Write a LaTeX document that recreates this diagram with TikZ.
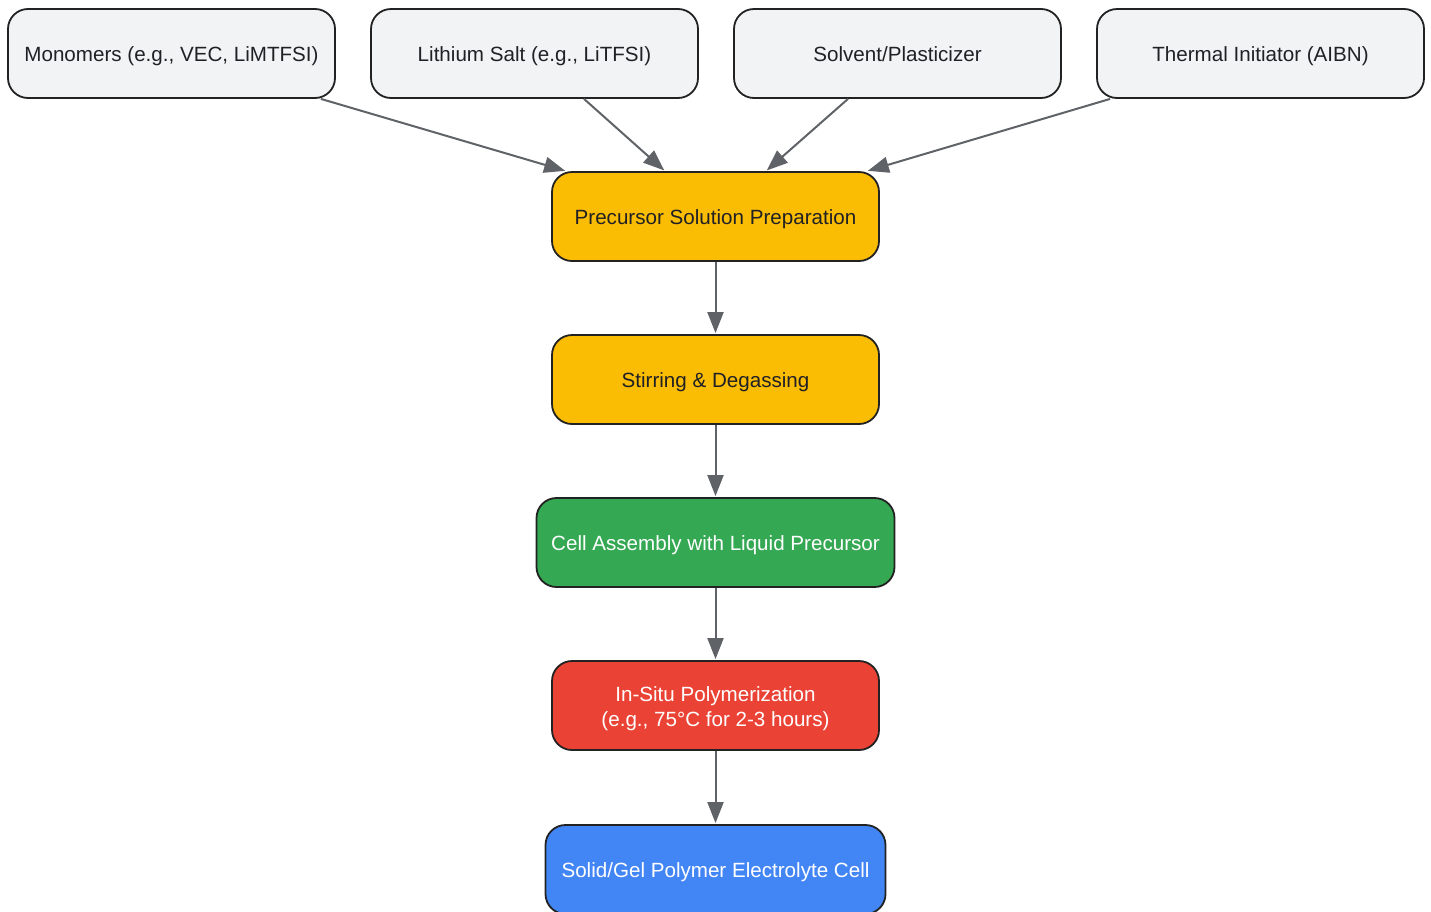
\documentclass[tikz,border=0pt]{standalone}
\usepackage{fontspec}
\setmainfont{Liberation Sans}
\usetikzlibrary{arrows.meta,calc}
\definecolor{boxgray}{HTML}{F1F3F4}
\definecolor{boxyellow}{HTML}{FBBC04}
\definecolor{boxgreen}{HTML}{34A853}
\definecolor{boxred}{HTML}{EA4335}
\definecolor{boxblue}{HTML}{4285F4}
\definecolor{edgegray}{HTML}{5F6368}
\definecolor{txtdark}{HTML}{202124}
\definecolor{strokedark}{HTML}{222222}
\newcommand{\lowtext}[1]{\raisebox{0pt}[\dimexpr\height+6pt\relax][\depth]{\begin{tabular}{@{}c@{}}#1\end{tabular}}}
\begin{document}
\begin{tikzpicture}[x=1pt,y=-1pt,
  proc/.style={draw=strokedark,line width=1.8pt,rounded corners=20pt,minimum width=327pt,minimum height=89pt,align=center,font=\fontsize{20.6}{25}\selectfont,inner sep=0pt},
  graybox/.style={proc,fill=boxgray,text=txtdark},
  yellowbox/.style={proc,fill=boxyellow,text=txtdark},
  greenbox/.style={proc,fill=boxgreen,text=white},
  redbox/.style={proc,fill=boxred,text=white},
  bluebox/.style={proc,fill=boxblue,text=white},
  conn/.style={draw=edgegray,line width=2pt,-{Triangle[length=21pt,width=16pt]},shorten >=1pt}
]
\useasboundingbox (0,0) rectangle (1431,911);
\node[graybox] (m) at (171.5,53.5) {\lowtext{Monomers (e.g., VEC, LiMTFSI)}};
\node[graybox] (l) at (534.5,53.5) {\lowtext{Lithium Salt (e.g., LiTFSI)}};
\node[graybox] (sv) at (897.5,53.5) {\lowtext{Solvent/Plasticizer}};
\node[graybox] (ti) at (1260.5,53.5) {\lowtext{Thermal Initiator (AIBN)}};
\node[yellowbox] (p) at (715.5,216.5) {\lowtext{Precursor Solution Preparation}};
\node[yellowbox] (sd) at (715.5,379.5) {\lowtext{Stirring \& Degassing}};
\node[greenbox,minimum width=358pt] (ca) at (715.5,542.5) {\lowtext{Cell Assembly with Liquid Precursor}};
\node[redbox] (ip) at (715.5,705.5) {\lowtext{In-Situ Polymerization\\(e.g., 75°C for 2-3 hours)}};
\node[bluebox,minimum width=340pt] (sg) at (715.5,869.5) {\lowtext{Solid/Gel Polymer Electrolyte Cell}};
\draw[conn] ($(m.south east)+(-15,0)$) -- ($(p.north west)+(15,0)$);
\draw[conn] ($(l.south)+(49.5,0)$) -- ($(p.north)+(-50.5,0)$);
\draw[conn] ($(sv.south)+(-49.5,0)$) -- ($(p.north)+(50.5,0)$);
\draw[conn] ($(ti.south west)+(14,0)$) -- ($(p.north east)+(-13,0)$);
\draw[conn] (p) -- (sd);
\draw[conn] (sd) -- (ca);
\draw[conn] (ca) -- (ip);
\draw[conn] (ip) -- (sg);
\end{tikzpicture}
\end{document}
